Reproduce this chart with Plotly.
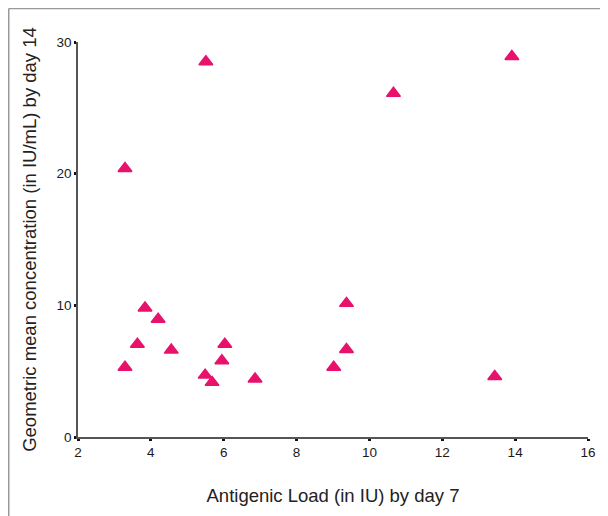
import plotly.graph_objects as go

antigenic_load = [3.29, 5.51, 10.66, 13.91, 3.84, 4.20, 3.63, 4.56, 3.29,
                  5.49, 5.68, 6.03, 5.95, 6.86, 9.37, 9.37, 9.02, 13.44]
gmc = [20.4, 28.5, 26.1, 28.9, 9.8, 8.95, 7.05, 6.6, 5.3,
       4.7, 4.15, 7.05, 5.8, 4.4, 10.15, 6.65, 5.3, 4.6]

x_ticks = [2, 4, 6, 8, 10, 12, 14, 16]
y_ticks = [0, 10, 20, 30]

fig = go.Figure()
fig.add_trace(go.Scatter(
    x=antigenic_load, y=gmc, mode="markers",
    marker=dict(symbol="triangle-up", size=12, color="#E8126C",
                line=dict(width=1.5, color="#E8126C")),
    showlegend=False, cliponaxis=False,
))

font_family = "Liberation Sans, Arial, sans-serif"
fig.update_layout(
    width=600, height=508,
    margin=dict(l=70, r=18, t=34, b=79),
    paper_bgcolor="white", plot_bgcolor="white",
    font=dict(family=font_family, color="#222222"),
    xaxis=dict(
        range=[2, 16], tickvals=x_ticks, ticktext=[str(v) for v in x_ticks],
        showgrid=False, zeroline=False, showline=True, linecolor="#555555", linewidth=1.5,
        ticks="outside", ticklen=2, tickwidth=3, tickcolor="#111111",
        tickfont=dict(size=13.5, color="#1a1a1a"),
        title=dict(text="Antigenic Load (in IU) by day 7", font=dict(size=18.5, color="#222222"), standoff=30),
    ),
    yaxis=dict(
        range=[0, 30], tickvals=y_ticks, ticktext=[str(v) for v in y_ticks],
        showgrid=False, zeroline=False, showline=True, linecolor="#555555", linewidth=1.5,
        ticks="outside", ticklen=2, tickwidth=3, tickcolor="#111111",
        tickfont=dict(size=13.5, color="#1a1a1a"),
        title=dict(text="Geometric mean concentration (in IU/mL) by day 14", font=dict(size=18.5, color="#222222"), standoff=15),
    ),
    shapes=[
        dict(type="line", xref="paper", yref="paper", x0=-0.1358, x1=-0.1358, y0=1.0848, y1=-0.25,
             line=dict(color="#999999", width=1.5)),
        dict(type="line", xref="paper", yref="paper", x0=-0.1358, x1=1.1, y0=1.0848, y1=1.0848,
             line=dict(color="#999999", width=1.5)),
    ],
)

fig.write_html("out.html")
